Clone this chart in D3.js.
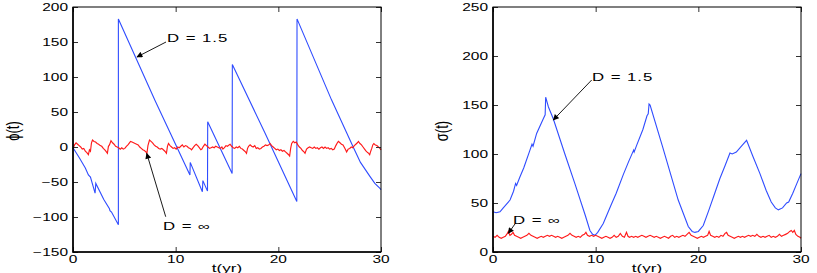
<!DOCTYPE html>
<html>
<head>
<meta charset="utf-8">
<script src="https://cdn.jsdelivr.net/npm/d3@7"></script>
<style>
  body { margin: 0; background: #fff; }
  text { font-family: "Liberation Sans", Arial, sans-serif; fill: #000; }
</style>
</head>
<body>
<div id="main"></div>
<script>

// ---- data: [t (yr), value] ----

// phi(t), D = 1.5 (sawtooth, repeated t = vertical jump)
var phiFinite = [
  [0,-1],[0.6,-15],[1.2,-30],[1.5,-40],[1.7,-43],[2.15,-66],[2.22,-52],[3.0,-75],
  [3.55,-88],[3.6,-91],[3.75,-93],[4.42,-111],[4.42,183],[8.0,66],[11.39,-40],
  [11.42,-22],[12.6,-64],[12.65,-48],[13.1,-63],[13.12,36],[15.5,-38],[15.52,118],
  [18.7,20],[21.8,-78],[21.82,183],[25.19,67],[27.29,0],[28.0,-22],[28.92,-42],
  [29.4,-52],[29.9,-59],[30,-61]
];

// phi(t), D = infinity
var phiInf = [
  [0,-2],[0.15,3],[0.3,6],[0.45,4],[0.6,2],[0.75,0],[0.9,-3],[1.05,-2],[1.2,-6],[1.35,-8],
  [1.5,-11],[1.6,-4],[1.7,-6],[1.8,6],[1.9,10],[2.05,8],[2.2,7],[2.35,5],[2.5,4],[2.65,2],
  [2.8,1],[2.95,-2],[3.1,-4],[3.2,-6],[3.35,-9],[3.45,1],[3.55,3],[3.7,9],[3.85,6],[4.0,4],
  [4.15,1],[4.3,0],[4.45,-1],[4.6,-3],[4.75,-1],[4.9,-3],[5.05,-2],[5.2,1],[5.35,3],[5.5,6],
  [5.6,8],[5.75,7],[5.9,6],[6.05,5],[6.2,4],[6.35,3],[6.5,0],[6.65,-2],[6.8,-4],[6.95,-5],
  [7.1,-7],[7.2,-9],[7.3,2],[7.45,10],[7.6,8],[7.75,6],[7.9,3],[8.05,1],[8.2,0],[8.35,-2],
  [8.5,-3],[8.65,-2],[8.8,-4],[8.95,-6],[9.1,-9],[9.2,1],[9.3,5],[9.45,2],[9.6,0],[9.75,-2],
  [9.9,-1],[10.05,-3],[10.2,0],[10.35,-1],[10.5,1],[10.65,3],[10.8,0],[10.95,2],[11.1,1],[11.25,-1],
  [11.4,-2],[11.55,-4],[11.7,-1],[11.85,2],[12.0,4],[12.15,2],[12.3,-1],[12.45,-4],[12.55,-3],[12.7,1],
  [12.85,4],[13.0,2],[13.15,0],[13.3,-2],[13.45,-1],[13.6,0],[13.75,-1],[13.9,1],[14.05,0],[14.2,-1],
  [14.35,-2],[14.5,0],[14.6,-3],[14.75,-1],[14.9,2],[15.05,1],[15.2,3],[15.3,4],[15.45,1],[15.6,-1],
  [15.75,-2],[15.9,0],[16.05,-1],[16.2,1],[16.35,-2],[16.5,-3],[16.65,-5],[16.8,-7],[16.9,-9],[17.0,-2],
  [17.1,1],[17.25,3],[17.4,1],[17.55,0],[17.7,2],[17.85,-2],[18.0,-1],[18.15,-3],[18.3,-2],[18.45,0],
  [18.6,1],[18.75,3],[18.9,2],[19.05,3],[19.2,5],[19.35,2],[19.5,0],[19.65,-2],[19.8,-4],[19.95,-3],
  [20.1,-5],[20.25,-4],[20.4,-6],[20.55,-5],[20.7,-7],[20.85,-9],[21.0,-11],[21.1,-13],[21.2,-2],[21.3,5],
  [21.45,8],[21.6,6],[21.75,7],[21.9,3],[22.05,0],[22.2,-2],[22.35,-5],[22.5,-7],[22.6,-9],[22.75,-3],
  [22.9,-1],[23.05,0],[23.2,-1],[23.35,-2],[23.5,0],[23.65,-2],[23.8,-1],[23.95,-3],[24.1,-1],[24.25,0],
  [24.4,-2],[24.55,0],[24.7,-2],[24.85,-1],[25.0,-3],[25.15,-2],[25.3,-4],[25.45,-3],[25.6,2],[25.75,6],
  [25.85,8],[26.0,6],[26.15,4],[26.3,3],[26.45,-1],[26.55,-4],[26.65,-7],[26.8,-3],[26.95,-2],[27.1,0],
  [27.25,-1],[27.4,2],[27.55,4],[27.7,6],[27.8,8],[27.95,5],[28.1,3],[28.25,0],[28.4,-3],[28.55,-6],
  [28.7,-8],[28.8,-9],[28.9,-11],[29.0,-6],[29.1,-2],[29.2,3],[29.3,5],[29.45,3],[29.6,2],[29.75,0],
  [29.9,-2],[30.0,-4]
];

// sigma(t), D = 1.5
var sigFinite = [
  [0,41],[0.3,40],[0.68,41],[1.0,45],[1.66,53],[2.0,62],[2.2,70],[2.3,68],[2.6,76],[3.0,86],
  [3.6,104],[3.8,110],[3.9,108],[4.25,121],[4.9,136],[5.08,140],[5.13,158],[5.4,148],[5.87,136],
  [7.0,100],[8.0,69],[9.0,37],[9.44,22],[9.7,18],[9.93,17],[10.2,20],[10.74,29],[11.5,48],
  [12.0,60],[12.69,79],[13.2,92],[13.7,104],[13.75,102],[14.0,109],[14.6,125],[15.0,139],
  [15.12,141],[15.2,151],[15.3,150],[16.5,108],[18.04,53],[19.02,26],[19.4,21],[19.67,20],
  [20.0,21],[20.48,27],[21.0,42],[21.6,60],[22.1,75],[22.6,88],[23.08,101],[23.3,100],
  [23.7,102],[24.2,108],[24.7,114],[25.3,98],[26.0,80],[26.6,63],[27.1,51],[27.5,45],
  [27.8,43],[28.2,45],[28.6,50],[28.8,51],[29.2,60],[29.6,70],[30,80]
];

// sigma(t), D = infinity
var sigInf = [
  [0,16],[0.2,15],[0.4,17],[0.6,15],[0.8,14],[1.0,15],[1.2,16],[1.4,19],[1.5,21],[1.65,17],
  [1.8,18],[1.95,20],[2.1,17],[2.3,16],[2.5,15],[2.7,14],[2.9,15],[3.1,16],[3.3,17],[3.5,19],
  [3.7,17],[3.9,16],[4.1,15],[4.3,14],[4.5,15],[4.7,16],[4.9,15],[5.1,16],[5.3,17],[5.5,16],
  [5.7,17],[5.9,16],[6.1,15],[6.3,16],[6.5,15],[6.7,14],[6.9,15],[7.1,16],[7.3,17],[7.5,19],
  [7.7,17],[7.9,16],[8.1,15],[8.3,16],[8.5,15],[8.7,17],[8.9,18],[9.05,20],[9.2,17],[9.4,16],
  [9.6,17],[9.8,16],[10.0,17],[10.2,16],[10.4,15],[10.6,14],[10.8,15],[11.0,16],[11.2,15],[11.4,14],
  [11.6,15],[11.8,17],[12.0,15],[12.2,16],[12.4,19],[12.6,16],[12.8,15],[13.0,20],[13.15,16],[13.3,15],
  [13.5,16],[13.7,15],[13.9,16],[14.1,15],[14.3,16],[14.5,17],[14.7,16],[14.9,15],[15.1,16],[15.3,17],
  [15.5,16],[15.7,15],[15.9,16],[16.1,15],[16.3,14],[16.5,15],[16.7,16],[16.9,15],[17.1,14],[17.3,16],
  [17.5,17],[17.7,15],[17.9,16],[18.1,15],[18.3,16],[18.5,17],[18.7,16],[18.9,18],[19.1,20],[19.3,17],
  [19.5,16],[19.7,15],[19.9,14],[20.1,15],[20.3,16],[20.5,15],[20.7,16],[20.9,17],[21.05,21],[21.2,17],
  [21.4,16],[21.6,15],[21.8,16],[22.0,15],[22.2,17],[22.4,16],[22.6,19],[22.75,20],[22.9,17],[23.1,16],
  [23.3,15],[23.5,14],[23.7,15],[23.9,16],[24.1,15],[24.3,16],[24.5,15],[24.7,16],[24.9,17],[25.1,16],
  [25.3,17],[25.5,16],[25.7,18],[25.9,16],[26.1,15],[26.3,16],[26.5,15],[26.7,16],[26.9,17],[27.1,15],
  [27.3,16],[27.5,15],[27.7,16],[27.9,18],[28.1,16],[28.3,17],[28.5,18],[28.7,19],[28.9,21],[29.05,22],
  [29.2,20],[29.35,22],[29.5,18],[29.7,16],[29.9,15],[30.0,14]
];

// ticks
var xTicks = [0, 10, 20, 30];
var phiTicks = [-150, -100, -50, 0, 50, 100, 150, 200];
var sigTicks = [0, 50, 100, 150, 200, 250];

// annotations: text at [t, v], arrow from tail to tip (data units)
var phiNotes = [
  {label: "D = 1.5", text: [9.15, 150.5], tail: [9.06, 150], tip: [6.23, 128.6]},
  {label: "D = \u221E", text: [8.76, -118], tail: [9.03, -99.6], tip: [7.18, -9]}
];
var sigNotes = [
  {label: "D = 1.5", text: [9.64, 175], tail: [9.61, 175.5], tip: [5.87, 134.7]},
  {label: "D = \u221E", text: [1.95, 28.6], tail: [2.14, 28.6], tip: [1.49, 19]}
];

var W = 817, H = 273;
var blue = "#2f4cff", red = "#ff1a1a";

var svg = d3.select("#main").append("svg")
    .attr("width", W)
    .attr("height", H);

svg.append("defs").append("marker")
    .attr("id", "head")
    .attr("viewBox", "0 0 10 10")
    .attr("refX", 9).attr("refY", 5)
    .attr("markerWidth", 7).attr("markerHeight", 6)
    .attr("markerUnits", "userSpaceOnUse")
    .attr("orient", "auto")
  .append("path")
    .attr("d", "M0,0 L10,5 L0,10 z")
    .attr("fill", "#000");

function panel(left, yDomain, yTicks, yLabel, labelX, finite, inf, notes) {
  var x = d3.scaleLinear().domain([0, 30]).range([left, left + 308]);
  var y = d3.scaleLinear().domain(yDomain).range([252, 7]);
  var g = svg.append("g");

  var line = d3.line()
      .x(function(d) { return x(d[0]); })
      .y(function(d) { return y(d[1]); });

  g.append("path").datum(finite)
      .attr("d", line).attr("fill", "none")
      .attr("stroke", blue).attr("stroke-width", 1.1);
  g.append("path").datum(inf)
      .attr("d", line).attr("fill", "none")
      .attr("stroke", red).attr("stroke-width", 1.15);

  // inward ticks on all four sides
  var tl = 5;
  g.append("g").attr("transform", "translate(0,252)")
      .call(d3.axisBottom(x).tickValues(xTicks).tickSize(-tl).tickFormat(""))
      .call(function(a) { a.select(".domain").remove(); });
  g.append("g").attr("transform", "translate(0,7)")
      .call(d3.axisTop(x).tickValues(xTicks).tickSize(-tl).tickFormat(""))
      .call(function(a) { a.select(".domain").remove(); });
  g.append("g").attr("transform", "translate(" + left + ",0)")
      .call(d3.axisLeft(y).tickValues(yTicks).tickSize(-tl).tickFormat(""))
      .call(function(a) { a.select(".domain").remove(); });
  g.append("g").attr("transform", "translate(" + (left + 308) + ",0)")
      .call(d3.axisRight(y).tickValues(yTicks).tickSize(-tl).tickFormat(""))
      .call(function(a) { a.select(".domain").remove(); });
  g.selectAll(".tick line").attr("stroke", "#333");

  // frame
  g.append("rect")
      .attr("x", left).attr("y", 7)
      .attr("width", 308).attr("height", 245)
      .attr("fill", "none").attr("stroke", "#000").attr("stroke-width", 1);
  g.append("path")
      .attr("d", "M" + left + ",7 V252 H" + (left + 308))
      .attr("fill", "none").attr("stroke", "#000").attr("stroke-width", 1.6);

  // tick labels (horizontally stretched like the source)
  g.selectAll(".xl").data(xTicks).enter().append("text")
      .attr("transform", function(d) { return "translate(" + x(d) + ",263) scale(1.55,1)"; })
      .attr("text-anchor", "middle")
      .style("font-size", "10px")
      .text(function(d) { return d; });
  g.selectAll(".yl").data(yTicks).enter().append("text")
      .attr("transform", function(d) { return "translate(" + (left - 5) + "," + (y(d) + 3.5) + ") scale(1.55,1)"; })
      .attr("text-anchor", "end")
      .style("font-size", "10px")
      .text(function(d) { return d < 0 ? "\u2212" + (-d) : d; });

  g.append("text")
      .attr("transform", "translate(" + x(15) + ",271.5) scale(1.55,1)")
      .attr("text-anchor", "middle")
      .style("font-size", "11px")
      .text("t(yr)");
  g.append("text")
      .attr("transform", "translate(" + labelX + ",131) rotate(-90) scale(1,1.45)")
      .attr("text-anchor", "middle")
      .style("font-size", "13px")
      .text(yLabel);

  // annotations
  notes.forEach(function(n) {
    g.append("line")
        .attr("x1", x(n.tail[0])).attr("y1", y(n.tail[1]))
        .attr("x2", x(n.tip[0])).attr("y2", y(n.tip[1]))
        .attr("stroke", "#000").attr("stroke-width", 0.9)
        .attr("marker-end", "url(#head)");
    g.append("text")
        .attr("transform", "translate(" + x(n.text[0]) + "," + y(n.text[1]) + ") scale(1.6,1)")
        .style("font-size", "10.5px")
        .style("letter-spacing", "0.6px")
        .text(n.label);
  });
}

panel(73, [-150, 200], phiTicks, "\u03D5(t)", 19, phiFinite, phiInf, phiNotes);
panel(493, [0, 250], sigTicks, "\u03C3(t)", 448, sigFinite, sigInf, sigNotes);

</script>
</body>
</html>
